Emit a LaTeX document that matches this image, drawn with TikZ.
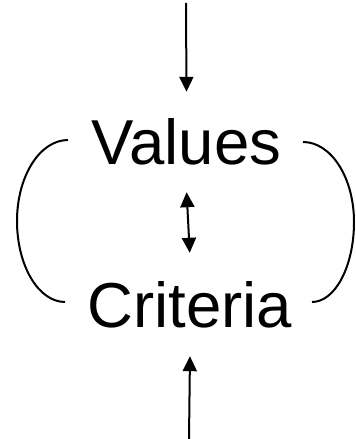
\documentclass[tikz,border=0pt]{standalone}
\usepackage{fontspec}
\setmainfont{Liberation Sans}
\usetikzlibrary{arrows.meta}
\begin{document}
\begin{tikzpicture}[x=1pt,y=1pt,
  lbl/.style={inner xsep=0pt, inner ysep=25pt, text height=45pt, text depth=0pt,
    font=\fontsize{63.5}{70}\selectfont, anchor=base},
  tip/.style={Triangle[length=15pt,width=14pt]},
  arr/.style={line width=2pt, -{Triangle[length=15pt,width=14pt]}},
  darr/.style={line width=2pt, {Triangle[length=15pt,width=14pt]}-{Triangle[length=15pt,width=14pt]}},
  brk/.style={line width=2pt}]
\useasboundingbox (0,0) rectangle (356,439);
\node[lbl] (V) at (186.5,274) {Values};
\node[lbl] (C) at (190,111) {Criteria};
\coordinate (top) at (186,436);
\coordinate (bot) at (189,0);
\draw[arr, shorten >=3pt] (top) -- (V.north);
\draw[darr, shorten <=2pt, shorten >=5pt] (V.south) -- (C.north);
\draw[arr, shorten >=3pt] (bot) -- (C.south);
% left bracket
\draw[brk] (68,299) .. controls (39.8,299) and (17,262.7) .. (17,218)
  .. controls (17,173.3) and (38.5,137) .. (65,137);
% right bracket
\draw[brk] (303,297) .. controls (331.2,297) and (354,261.2) .. (354,217)
  .. controls (354,172.8) and (335.2,137) .. (312,137);
\end{tikzpicture}
\end{document}
